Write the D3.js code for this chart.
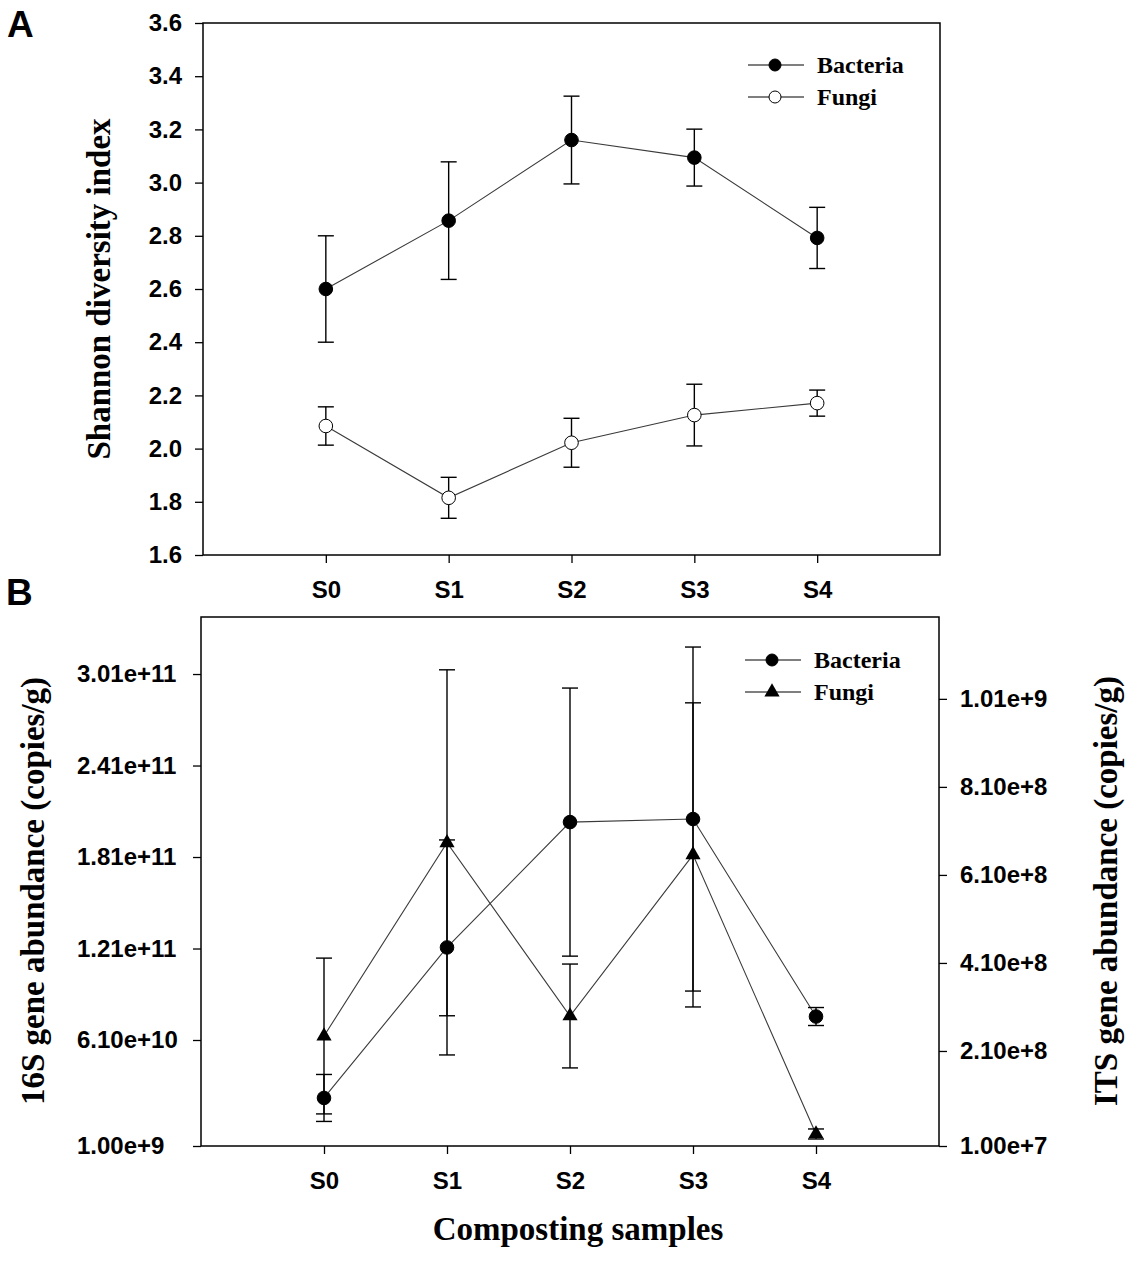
<!DOCTYPE html>
<html>
<head>
<meta charset="utf-8">
<script src="https://cdn.jsdelivr.net/npm/d3@7"></script>
<style>
body { margin: 0; background: #fff; }
.tick text { font-family: "Liberation Sans", Arial, sans-serif; font-weight: bold; font-size: 24px; fill: #000; }
.tick line { stroke: #000; stroke-width: 1.3; }
.title { font-family: "Liberation Serif", "Times New Roman", serif; font-weight: bold; font-size: 33px; fill: #000; }
.legend { font-family: "Liberation Serif", "Times New Roman", serif; font-weight: bold; font-size: 24px; fill: #000; }
.panel { font-family: "Liberation Sans", Arial, sans-serif; font-weight: bold; font-size: 37px; fill: #000; }
</style>
</head>
<body>
<svg id="chart" width="1145" height="1269"></svg>
<script>
// ---- data ----
const samples = ["S0", "S1", "S2", "S3", "S4"];

// panel A, Shannon index
const shannonBacMean = [2.600, 2.857, 3.160, 3.094, 2.792];
const shannonBacSd   = [0.200, 0.221, 0.165, 0.107, 0.115];
const shannonFunMean = [2.085, 1.815, 2.022, 2.126, 2.171];
const shannonFunSd   = [0.072, 0.077, 0.092, 0.116, 0.049];
const shannonTicks   = [1.6, 1.8, 2.0, 2.2, 2.4, 2.6, 2.8, 3.0, 3.2, 3.4, 3.6];

// panel B, gene abundance (copies/g)
const bac16sMean = [2.30e10, 1.217e11, 2.039e11, 2.059e11, 7.64e10];
const bac16sSd   = [1.54e10, 7.05e10, 8.79e10, 1.128e11, 5.9e9];
const funItsMean = [2.44e8, 6.83e8, 2.895e8, 6.555e8, 2.14e7];
const funItsSd   = [1.77e8, 3.93e8, 1.18e8, 3.455e8, 1.14e7];
const ticks16s   = [6.1e10, 1.21e11, 1.81e11, 2.41e11, 3.01e11];
const labels16s  = ["1.00e+9", "6.10e+10", "1.21e+11", "1.81e+11", "2.41e+11", "3.01e+11"];
const ticksIts   = [2.1e8, 4.1e8, 6.1e8, 8.1e8, 1.01e9];
const labelsIts  = ["1.00e+7", "2.10e+8", "4.10e+8", "6.10e+8", "8.10e+8", "1.01e+9"];

const svg = d3.select('#chart');
const lineCol = '#3a3a3a';

//---------------general reuse structures-----------------------
function drawSeries(g, x, y, mean, sd, symbol){
	const pts = mean.map((m, i) => ({x: x(samples[i]), y: y(m), lo: y(m - sd[i]), hi: y(m + sd[i])}));

	g.append('path')
		.attr('d', d3.line().x(d => d.x).y(d => d.y)(pts))
		.attr('fill', 'none')
		.attr('stroke', lineCol)
		.attr('stroke-width', 1.1);

	const eb = g.append('g').attr('stroke', '#000').attr('stroke-width', 1.4);
	pts.forEach(d => {
		eb.append('line').attr('x1', d.x).attr('x2', d.x).attr('y1', d.lo).attr('y2', d.hi);
		eb.append('line').attr('x1', d.x - 8).attr('x2', d.x + 8).attr('y1', d.lo).attr('y2', d.lo);
		eb.append('line').attr('x1', d.x - 8).attr('x2', d.x + 8).attr('y1', d.hi).attr('y2', d.hi);
	});

	pts.forEach(d => drawMarker(g, d.x, d.y, symbol, 6.8));
}

function drawMarker(g, cx, cy, symbol, r){
	if (symbol === 'triangle'){
		g.append('path')
			.attr('d', d3.symbol(d3.symbolTriangle, 100)())
			.attr('transform', `translate(${cx},${cy})`)
			.attr('fill', '#000');
	} else {
		g.append('circle')
			.attr('cx', cx).attr('cy', cy).attr('r', r)
			.attr('fill', symbol === 'open' ? '#fff' : '#000')
			.attr('stroke', '#000').attr('stroke-width', 1);
	}
}

function drawLegend(g, x0, y0, items){
	items.forEach((it, i) => {
		const y = y0 + i * 32;
		g.append('line').attr('x1', x0).attr('x2', x0 + 56).attr('y1', y).attr('y2', y)
			.attr('stroke', '#000').attr('stroke-width', 1.2);
		drawMarker(g, x0 + 27, y, it.symbol, 6);
		g.append('text').attr('class', 'legend').attr('x', x0 + 69).attr('y', y + 8).text(it.name);
	});
}

function frame(g, x0, y0, x1, y1){
	g.append('rect').attr('x', x0).attr('y', y0).attr('width', x1 - x0).attr('height', y1 - y0)
		.attr('fill', 'none').attr('stroke', '#000').attr('stroke-width', 1.5);
}

//-------------panel A---------------------------
const aL = 203, aR = 940, aT = 23, aB = 555;
const xA = d3.scalePoint().domain(samples).range([aL, aR]).padding(1);
const yA = d3.scaleLinear().domain([1.6, 3.6]).range([aB, aT]);
const gA = svg.append('g');

gA.append('g').attr('transform', `translate(${aL},0)`)
	.call(d3.axisLeft(yA).tickValues(shannonTicks).tickFormat(d3.format('.1f')).tickSize(8).tickSizeOuter(0).tickPadding(13))
	.call(a => a.select('.domain').remove());
gA.append('g').attr('transform', `translate(0,${aB})`)
	.call(d3.axisBottom(xA).tickSize(8).tickSizeOuter(0).tickPadding(18))
	.call(a => a.select('.domain').remove());

frame(gA, aL, aT, aR, aB);
drawSeries(gA, xA, yA, shannonBacMean, shannonBacSd, 'filled');
drawSeries(gA, xA, yA, shannonFunMean, shannonFunSd, 'open');
drawLegend(gA, 748, 65, [{name: 'Bacteria', symbol: 'filled'}, {name: 'Fungi', symbol: 'open'}]);

gA.append('text').attr('class', 'title')
	.attr('transform', `translate(110,${(aT + aB) / 2}) rotate(-90)`)
	.attr('text-anchor', 'middle').text('Shannon diversity index');
svg.append('text').attr('class', 'panel').attr('x', 7).attr('y', 37).text('A');

//-------------panel B---------------------------
const bL = 201, bR = 939, bT = 617, bB = 1146;
const xB = d3.scalePoint().domain(samples).range([bL, bR]).padding(1);
// axis limits sit just outside the labelled ticks (bottom tick marks the axis origin)
const y16 = d3.scaleLinear().domain([-8.51e9, 3.384e11]).range([bB, bT]);
const yIts = d3.scaleLinear().domain([-5.9e6, 1.196e9]).range([bB, bT]);
const gB = svg.append('g');

const t16 = [y16.domain()[0]].concat(ticks16s);
gB.append('g').attr('transform', `translate(${bL},0)`)
	.call(d3.axisLeft(y16).tickValues(t16).tickFormat((d, i) => labels16s[i]).tickSize(8).tickSizeOuter(0))
	.call(a => a.select('.domain').remove())
	.call(a => a.selectAll('.tick text').attr('text-anchor', 'start').attr('x', 77 - bL));

const tIts = [yIts.domain()[0]].concat(ticksIts);
gB.append('g').attr('transform', `translate(${bR},0)`)
	.call(d3.axisRight(yIts).tickValues(tIts).tickFormat((d, i) => labelsIts[i]).tickSize(8).tickSizeOuter(0).tickPadding(13))
	.call(a => a.select('.domain').remove());

gB.append('g').attr('transform', `translate(0,${bB})`)
	.call(d3.axisBottom(xB).tickSize(8).tickSizeOuter(0).tickPadding(18))
	.call(a => a.select('.domain').remove());

frame(gB, bL, bT, bR, bB);
drawSeries(gB, xB, y16, bac16sMean, bac16sSd, 'filled');
drawSeries(gB, xB, yIts, funItsMean, funItsSd, 'triangle');
drawLegend(gB, 745, 660, [{name: 'Bacteria', symbol: 'filled'}, {name: 'Fungi', symbol: 'triangle'}]);

gB.append('text').attr('class', 'title')
	.attr('transform', `translate(44,891) rotate(-90)`)
	.attr('text-anchor', 'middle').text('16S gene abundance (copies/g)');
gB.append('text').attr('class', 'title')
	.attr('transform', `translate(1117,891) rotate(-90)`)
	.attr('text-anchor', 'middle').text('ITS gene abundance (copies/g)');
gB.append('text').attr('class', 'title')
	.attr('x', 578).attr('y', 1240)
	.attr('text-anchor', 'middle').text('Composting samples');
svg.append('text').attr('class', 'panel').attr('x', 6).attr('y', 605).text('B');
</script>
</body>
</html>
